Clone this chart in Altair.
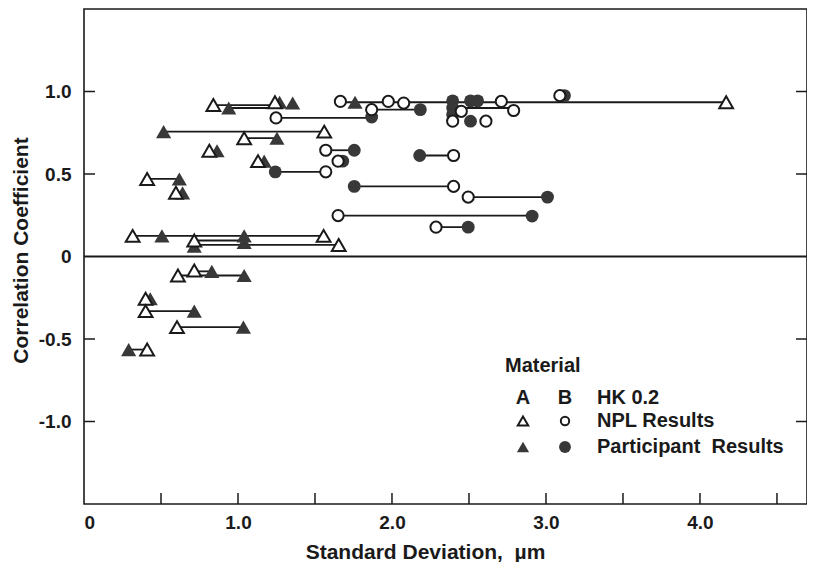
import altair as alt
import pandas as pd

# ---------------- data ----------------
# Material A, NPL results (open triangles)
a_npl_x = [0.84, 1.24, 4.17, 1.56, 1.04, 0.814, 1.13, 0.41, 0.597, 0.316, 1.556, 0.716, 1.654, 0.61, 0.716, 0.40, 0.40, 0.604, 0.41]
a_npl_y = [0.918, 0.935, 0.935, 0.757, 0.717, 0.641, 0.578, 0.47, 0.386, 0.125, 0.125, 0.097, 0.07, -0.115, -0.085, -0.256, -0.331, -0.428, -0.564]
# Material A, participant results (filled triangles)
a_part_x = [0.94, 1.27, 1.355, 1.76, 0.517, 1.253, 0.864, 1.17, 0.619, 0.64, 0.506, 1.04, 1.04, 0.716, 0.83, 1.04, 0.43, 0.716, 1.035, 0.29]
a_part_y = [0.90, 0.935, 0.93, 0.935, 0.757, 0.717, 0.641, 0.578, 0.47, 0.386, 0.125, 0.125, 0.085, 0.062, -0.09, -0.115, -0.256, -0.331, -0.428, -0.564]
# Material B, NPL results (open circles)
b_npl_x = [1.665, 1.976, 2.076, 1.868, 1.247, 2.71, 2.79, 2.394, 2.61, 2.45, 3.09, 1.57, 1.65, 1.57, 2.40, 2.40, 2.495, 1.65, 2.286]
b_npl_y = [0.94, 0.94, 0.93, 0.89, 0.84, 0.94, 0.885, 0.82, 0.82, 0.88, 0.975, 0.644, 0.578, 0.513, 0.612, 0.425, 0.36, 0.248, 0.178]
# Material B, participant results (filled circles)
b_part_x = [1.868, 2.184, 2.394, 2.51, 2.556, 2.394, 2.394, 2.51, 3.12, 1.755, 1.68, 1.242, 2.18, 1.755, 3.01, 2.91, 2.495]
b_part_y = [0.845, 0.89, 0.943, 0.943, 0.943, 0.90, 0.86, 0.82, 0.975, 0.644, 0.578, 0.513, 0.612, 0.425, 0.36, 0.245, 0.178]
# connecting segments (NPL <-> participant)
seg_x1 = [0.84, 0.94, 1.665, 0.517, 1.04, 0.41, 0.316, 0.716, 0.716, 0.61, 0.716, 0.40, 0.604, 0.29,
          1.868, 1.247, 2.394, 1.57, 1.242, 2.18, 1.755, 2.495, 1.65, 2.286]
seg_x2 = [1.24, 1.24, 4.17, 1.56, 1.253, 0.619, 1.556, 1.04, 1.654, 1.04, 0.83, 0.716, 1.035, 0.41,
          2.184, 1.868, 2.79, 1.755, 1.57, 2.40, 2.40, 3.01, 2.91, 2.495]
seg_y = [0.918, 0.90, 0.935, 0.757, 0.717, 0.47, 0.125, 0.097, 0.07, -0.115, -0.09, -0.331, -0.428, -0.564,
         0.89, 0.84, 0.90, 0.644, 0.513, 0.612, 0.425, 0.36, 0.248, 0.178]

x_ticks = [0.5, 1.0, 1.5, 2.0, 2.5, 3.0, 3.5, 4.0, 4.5]
x_labels = [0, 1, 2, 3, 4]
y_ticks = [-1.0, -0.5, 0.5, 1.0]
y_labels = [-1.0, -0.5, 0, 0.5, 1.0]

legend_title = "Material"
legend_cols = ["A", "B"]
legend_labels = ["HK 0.2", "NPL Results", "Participant\u00a0 Results"]

x_title = "Standard Deviation,\u00a0 \u00b5m"
y_title = "Correlation Coefficient"

# ---------------- chart ----------------
FONT = "Liberation Sans"
INK = "#1a1a1a"
FILL = "#383838"
W, H = 723, 495
X_DOM = [0, 4.695]
Y_DOM = [-1.5, 1.5]

xs = alt.Scale(domain=X_DOM, nice=False, zero=False)
ys = alt.Scale(domain=Y_DOM, nice=False, zero=False)

pts = lambda xv, yv: pd.DataFrame({"x": xv, "y": yv})
segs = pd.DataFrame({"x1": seg_x1, "x2": seg_x2, "y": seg_y})
one = pd.DataFrame({"k": [0]})

lbl_expr_x = "datum.value == 0 ? '0' : format(datum.value, '.1f')"
lbl_expr_y = "datum.value == 0 ? '0' : (datum.value < 0 ? '-' : '') + format(abs(datum.value), '.1f')"

zero = alt.Chart(pd.DataFrame({"y": [0]})).mark_rule(color=INK, strokeWidth=1.8).encode(
    y=alt.Y("y:Q", scale=ys,
            axis=alt.Axis(values=y_labels, labelExpr=lbl_expr_y, labelPadding=13,
                          title=y_title, titleAngle=270, titleX=-57, titleY=241,
                          titleAlign="center", titleBaseline="alphabetic"))
)

segments = alt.Chart(segs).mark_rule(color=INK, strokeWidth=1.8).encode(
    x=alt.X("x1:Q", scale=xs,
            axis=alt.Axis(values=x_labels, labelExpr=lbl_expr_x, labelPadding=9,
                          title=x_title, titleX=341, titleY=54,
                          titleAlign="center", titleBaseline="alphabetic")),
    x2="x2:Q",
    y=alt.Y("y:Q", scale=ys),
)

def filled(df, shape, size):
    return alt.Chart(df).mark_point(shape=shape, size=size, filled=True, color=FILL, opacity=1).encode(
        x=alt.X("x:Q", scale=xs), y=alt.Y("y:Q", scale=ys))

def hollow(df, shape, size):
    return alt.Chart(df).mark_point(shape=shape, size=size, filled=True, fill="white", stroke=INK,
                                    strokeWidth=2, opacity=1).encode(
        x=alt.X("x:Q", scale=xs), y=alt.Y("y:Q", scale=ys))

fa = filled(pts(a_part_x, a_part_y), "triangle-up", 230)
fb = filled(pts(b_part_x, b_part_y), "circle", 165)
oa = hollow(pts(a_npl_x, a_npl_y), "triangle-up", 190)
ob = hollow(pts(b_npl_x, b_npl_y), "circle", 125)

xt = alt.Chart(pd.DataFrame({"v": x_ticks})).mark_rule(color=INK, strokeWidth=1.5).encode(
    x=alt.X("v:Q", scale=xs), y=alt.value(H), y2=alt.value(H - 11))
ytl = alt.Chart(pd.DataFrame({"v": y_ticks})).mark_rule(color=INK, strokeWidth=1.5).encode(
    y=alt.Y("v:Q", scale=ys), x=alt.value(0), x2=alt.value(11))
ytr = alt.Chart(pd.DataFrame({"v": y_ticks})).mark_rule(color=INK, strokeWidth=1.5).encode(
    y=alt.Y("v:Q", scale=ys), x=alt.value(W), x2=alt.value(W - 11))

def ltext(txt, x, y, align="left"):
    return alt.Chart(one).mark_text(text=txt, font=FONT, fontWeight="bold", fontSize=20, color=INK,
                                    align=align, baseline="middle").encode(x=alt.value(x), y=alt.value(y))

LX0, LXA, LXB, LXT = 421, 439, 481, 513
LY = [357, 389, 412, 438]
legend = [
    ltext(legend_title, LX0, LY[0]),
    ltext(legend_cols[0], LXA, LY[1], "center"),
    ltext(legend_cols[1], LXB, LY[1], "center"),
    ltext(legend_labels[0], LXT, LY[1]),
    ltext(legend_labels[1], LXT, LY[2]),
    ltext(legend_labels[2], LXT, LY[3]),
    alt.Chart(one).mark_point(shape="triangle-up", size=110, filled=True, fill="white", stroke=INK,
                              strokeWidth=2, opacity=1).encode(x=alt.value(LXA), y=alt.value(LY[2])),
    alt.Chart(one).mark_point(shape="circle", size=70, filled=True, fill="white", stroke=INK,
                              strokeWidth=2, opacity=1).encode(x=alt.value(LXB), y=alt.value(LY[2])),
    alt.Chart(one).mark_point(shape="triangle-up", size=150, filled=True, color=FILL,
                              opacity=1).encode(x=alt.value(LXA), y=alt.value(LY[3])),
    alt.Chart(one).mark_point(shape="circle", size=140, filled=True, color=FILL,
                              opacity=1).encode(x=alt.value(LXB), y=alt.value(LY[3])),
]

chart = alt.layer(zero, segments, fa, fb, oa, ob, xt, ytl, ytr, *legend).properties(
    width=W, height=H,
    autosize=alt.AutoSizeParams(type="none"),
    padding={"left": 76, "top": 1, "right": 0, "bottom": 58},
    background="white",
).configure_view(stroke=INK, strokeWidth=1.6).configure_axis(
    grid=False, ticks=False, domain=False,
    labelFont=FONT, labelFontWeight="bold", labelFontSize=19, labelColor=INK,
    titleFont=FONT, titleFontWeight="bold", titleFontSize=21, titleColor=INK,
)

chart.save("out.html", embed_options={"renderer": "svg", "actions": False})
